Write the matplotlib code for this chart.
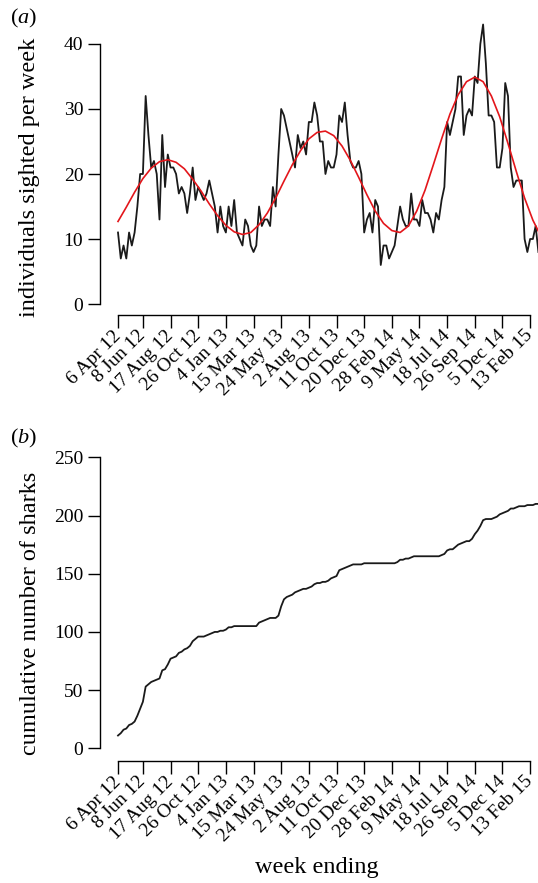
import numpy as np
import matplotlib
matplotlib.use("Agg")
import matplotlib.pyplot as plt

# Fonts (Times-like, as in the R original)
plt.rcParams['font.family'] = 'Liberation Serif'
plt.rcParams['mathtext.fontset'] = 'custom'
plt.rcParams['mathtext.rm'] = 'Liberation Serif'
plt.rcParams['mathtext.it'] = 'Liberation Serif:italic'

# --- Data ---
# weekly counts of individuals sighted (week 1 = week ending 6 Apr 12)
sighted = [11, 7, 9, 7, 11, 9, 11, 15, 20, 20,
           32, 26, 21, 22, 20, 13, 26, 18, 23, 21,
           21, 20, 17, 18, 17, 14, 17, 21, 16, 18,
           17, 16, 17, 19, 17, 15, 11, 15, 12, 11,
           15, 12, 16, 11, 10, 9, 13, 12, 9, 8,
           9, 15, 12, 13, 13, 12, 18, 15, 23, 30,
           29, 27, 25, 23, 21, 26, 24, 25, 23, 28,
           28, 31, 29, 25, 25, 20, 22, 21, 21, 23,
           29, 28, 31, 26, 22, 21, 21, 22, 20, 11,
           13, 14, 11, 16, 15, 6, 9, 9, 7, 8,
           9, 12, 15, 13, 12, 12, 17, 13, 13, 12,
           16, 14, 14, 13, 11, 14, 13, 16, 18, 28,
           26, 28, 30, 35, 35, 26, 29, 30, 29, 35,
           34, 40, 43, 37, 29, 29, 28, 21, 21, 24,
           34, 32, 21, 18, 19, 19, 19, 10, 8, 10,
           10, 12, 8]

# fitted seasonal curve (red), read at every third week
fit_weeks = [1, 4, 7, 10, 13, 16, 19, 22, 25, 28, 31, 34, 37, 40, 43, 46,
             49, 52, 55, 58, 61, 64, 67, 70, 73, 76, 79, 82, 85, 88, 91, 94,
             97, 100, 103, 106, 109, 112, 115, 118, 121, 124, 127, 130, 133,
             136, 139, 142, 145, 148, 151, 153]
fit_vals = [12.7, 14.9, 17.2, 19.3, 20.9, 21.9, 22.2, 21.8, 20.8, 19.2,
            17.4, 15.4, 13.6, 12.1, 11.1, 10.7, 11.0, 12.2, 14.0, 16.3,
            18.9, 21.4, 23.6, 25.4, 26.4, 26.6, 25.9, 24.3, 22.1, 19.5,
            16.8, 14.3, 12.4, 11.3, 11.0, 12.0, 14.3, 17.5, 21.4, 25.4,
            29.2, 32.2, 34.2, 34.9, 34.2, 32.0, 28.8, 24.7, 20.4, 16.3,
            12.9, 11.2]

# cumulative number of sharks identified
cumulative = [11, 13, 16, 17, 20, 21, 23, 28, 34, 40,
              53, 55, 57, 58, 59, 60, 67, 68, 72, 77,
              78, 79, 82, 83, 85, 86, 88, 92, 94, 96,
              96, 96, 97, 98, 99, 100, 100, 101, 101, 102,
              104, 104, 105, 105, 105, 105, 105, 105, 105, 105,
              105, 108, 109, 110, 111, 112, 112, 112, 114, 122,
              128, 130, 131, 132, 134, 135, 136, 137, 137, 138,
              139, 141, 142, 142, 143, 143, 144, 146, 147, 148,
              153, 154, 155, 156, 157, 158, 158, 158, 158, 159,
              159, 159, 159, 159, 159, 159, 159, 159, 159, 159,
              159, 160, 162, 162, 163, 163, 164, 165, 165, 165,
              165, 165, 165, 165, 165, 165, 165, 166, 167, 170,
              171, 171, 173, 175, 176, 177, 178, 178, 180, 184,
              187, 191, 196, 197, 197, 197, 198, 199, 201, 202,
              203, 204, 206, 206, 207, 208, 208, 208, 209, 209,
              209, 210, 210]

tick_weeks = [1, 10, 20, 30, 40, 50, 60, 70, 80, 90, 100, 110, 120, 130, 140, 150]
tick_labels = ["6 Apr 12", "8 Jun 12", "17 Aug 12", "26 Oct 12", "4 Jan 13",
               "15 Mar 13", "24 May 13", "2 Aug 13", "11 Oct 13", "20 Dec 13",
               "28 Feb 14", "9 May 14", "18 Jul 14", "26 Sep 14", "5 Dec 14",
               "13 Feb 15"]

weeks = np.arange(1, len(sighted) + 1)

# --- Figure ---
W, H = 538, 883
fig = plt.figure(figsize=(W / 100, H / 100), dpi=100)


def px_axes(left, top, right, bottom):
    return fig.add_axes([left / W, 1 - bottom / H, (right - left) / W, (bottom - top) / H])


def style(ax, ytop):
    for s in ["top", "right"]:
        ax.spines[s].set_visible(False)
    ax.spines["left"].set_bounds(0, ytop)
    ax.spines["bottom"].set_bounds(1, 150)
    for s in ["left", "bottom"]:
        ax.spines[s].set_linewidth(1.0)
    ax.tick_params(length=9, width=1.0, labelsize=14, pad=3)
    ax.tick_params(axis="x", pad=4)
    ax.set_xticks(tick_weeks)
    ax.set_xticklabels(tick_labels, rotation=45, ha="right", va="center",
                       rotation_mode="anchor")
    ax.set_xlim(-5.51, 152.85)


# (a) weekly sightings
ax1 = px_axes(100, 20, 538, 315)
ax1.plot(weeks, sighted, color="#1a1a1a", lw=1.3)
ax1.plot(fit_weeks, fit_vals, color="#e3161b", lw=1.2)
ax1.set_ylim(-1.69, 43.69)
ax1.set_yticks([0, 10, 20, 30, 40])
style(ax1, 40)

# (b) cumulative
ax2 = px_axes(100, 450, 538, 761)
ax2.plot(weeks, cumulative, color="#1a1a1a", lw=1.3)
ax2.set_ylim(-10.9, 256.3)
ax2.set_yticks([0, 50, 100, 150, 200, 250])
style(ax2, 250)

fig.text(10 / W, 1 - 18 / H, "($a$)", fontsize=16, va="center", ha="left")
fig.text(10 / W, 1 - 438 / H, "($b$)", fontsize=16, va="center", ha="left")
fig.text(30 / W, 1 - 177 / H, "individuals sighted per week", rotation=90,
         fontsize=17.5, ha="center", va="center")
fig.text(31 / W, 1 - 613 / H, "cumulative number of sharks", rotation=90,
         fontsize=17.5, ha="center", va="center")
fig.text(317 / W, 1 - 868 / H, "week ending", fontsize=17.5, ha="center", va="center")

fig.savefig("out.png", dpi=100)
